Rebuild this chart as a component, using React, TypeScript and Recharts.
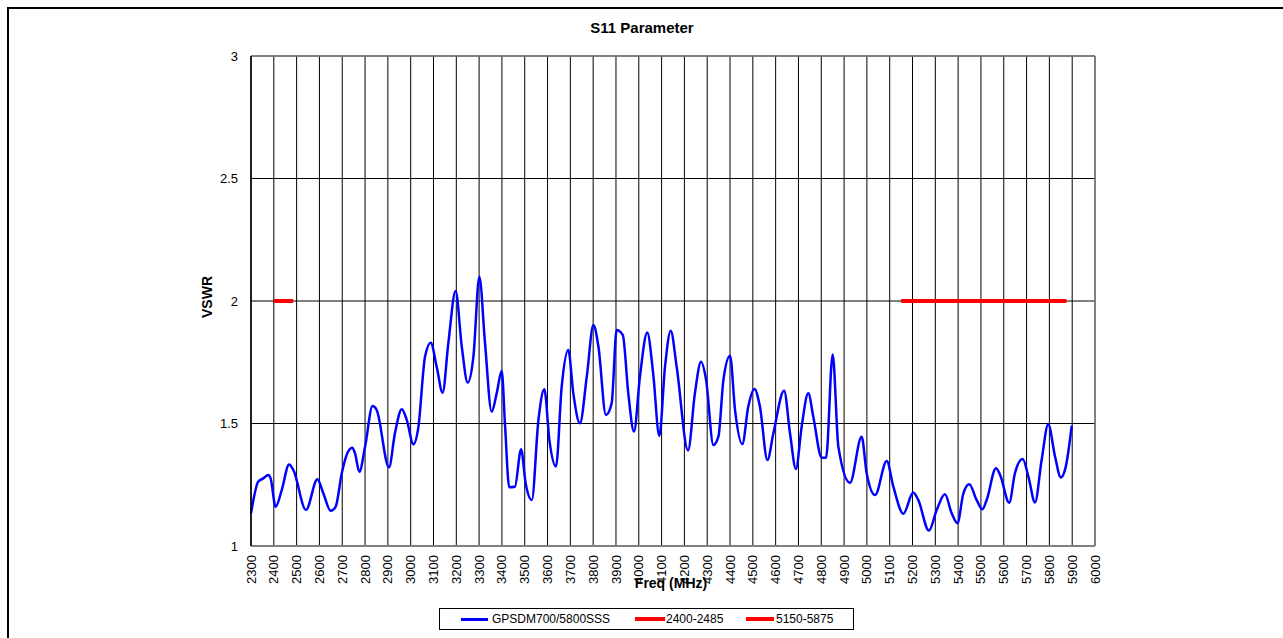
import { LineChart, Line, XAxis, YAxis, CartesianGrid, ReferenceLine } from 'recharts';

const freqs = [
  2300, 2332, 2354, 2376, 2386, 2408, 2435, 2467, 2486, 2541, 2591, 2617, 2649, 2671, 2698, 2719,
  2744, 2756, 2775, 2800, 2833, 2851, 2905, 2931, 2961, 2983, 3012, 3033, 3063, 3088, 3114, 3140,
  3165, 3197, 3224, 3250, 3275, 3301, 3326, 3355, 3377, 3399, 3414, 3432, 3457, 3484, 3504, 3531,
  3560, 3586, 3608, 3637, 3662, 3691, 3713, 3742, 3772, 3801, 3823, 3856, 3881, 3903, 3930, 3954,
  3979, 4005, 4037, 4063, 4090, 4115, 4140, 4166, 4216, 4246, 4273, 4295, 4327, 4349, 4371, 4400,
  4422, 4454, 4480, 4507, 4531, 4564, 4590, 4637, 4663, 4689, 4714, 4743, 4765, 4802, 4821, 4850,
  4875, 4926, 4977, 4999, 5036, 5087, 5116, 5160, 5203, 5225, 5272, 5306, 5342, 5372, 5397, 5423,
  5449, 5481, 5506, 5525, 5566, 5584, 5624, 5649, 5683, 5708, 5737, 5766, 5795, 5825, 5850, 5872,
  5898,
];
const vswr = [
  1.133, 1.263, 1.276, 1.29, 1.276, 1.16, 1.229, 1.333, 1.31, 1.147, 1.272, 1.215, 1.144, 1.16, 1.297, 1.371,
  1.401, 1.378, 1.303, 1.405, 1.571, 1.555, 1.321, 1.46, 1.558, 1.514, 1.415, 1.48, 1.773, 1.83, 1.732, 1.626,
  1.827, 2.041, 1.814, 1.667, 1.773, 2.099, 1.827, 1.548, 1.623, 1.714, 1.487, 1.24, 1.242, 1.395, 1.256, 1.188,
  1.514, 1.64, 1.433, 1.324, 1.65, 1.8, 1.623, 1.501, 1.691, 1.902, 1.814, 1.535, 1.582, 1.882, 1.861, 1.623,
  1.467, 1.691, 1.871, 1.705, 1.449, 1.732, 1.879, 1.732, 1.39, 1.623, 1.752, 1.678, 1.412, 1.446, 1.678, 1.777,
  1.555, 1.416, 1.569, 1.641, 1.569, 1.351, 1.46, 1.634, 1.46, 1.314, 1.487, 1.623, 1.528, 1.36, 1.36, 1.782,
  1.405, 1.258, 1.446, 1.297, 1.208, 1.347, 1.242, 1.132, 1.218, 1.188, 1.063, 1.147, 1.211, 1.133, 1.093, 1.215,
  1.252, 1.188, 1.15, 1.188, 1.317, 1.29, 1.177, 1.297, 1.355, 1.283, 1.178, 1.351, 1.497, 1.364, 1.28, 1.324,
  1.491,
];

// band limit markers
const band24Freqs = [2400, 2485];
const band24Level = [2, 2];
const band5Freqs = [5150, 5875];
const band5Level = [2, 2];

const xTicks = [
  2300, 2400, 2500, 2600, 2700, 2800, 2900, 3000, 3100, 3200, 3300, 3400, 3500, 3600, 3700, 3800, 3900,
  4000, 4100, 4200, 4300, 4400, 4500, 4600, 4700, 4800, 4900, 5000, 5100, 5200, 5300, 5400, 5500, 5600,
  5700, 5800, 5900, 6000,
];
const yTicks = [1, 1.5, 2, 2.5, 3];

const sweep = freqs.map((f, i) => ({ f, v: vswr[i] }));
const band24 = band24Freqs.map((f, i) => ({ f, v: band24Level[i] }));
const band5 = band5Freqs.map((f, i) => ({ f, v: band5Level[i] }));

const FONT = "'Liberation Sans', Arial, sans-serif";

function FreqTick({ x, y, payload }: any) {
  return (
    <text
      x={x}
      y={y}
      transform={`rotate(-90 ${x} ${y})`}
      textAnchor="end"
      dy="0.35em"
      fontSize={13}
      fontFamily={FONT}
      fill="#000"
    >
      {payload.value}
    </text>
  );
}

export default function App() {
  return (
    <div style={{ position: 'fixed', left: 0, top: 0, width: 1283, height: 638, overflow: 'hidden', background: '#fff', fontFamily: FONT }}>
      <div style={{ position: 'absolute', left: 7, top: 7, right: -10, bottom: -10, borderLeft: '2px solid #000', borderTop: '2px solid #000' }} />

      <div style={{ position: 'absolute', left: 0, top: 0 }}>
        <LineChart width={1283} height={638} data={sweep} margin={{ top: 56, right: 188, bottom: 0, left: 0 }}>
          <CartesianGrid stroke="#000" strokeWidth={1} verticalValues={xTicks} horizontalValues={yTicks} />
          <XAxis
            type="number"
            dataKey="f"
            domain={[2300, 6000]}
            ticks={xTicks}
            interval={0}
            height={92}
            tickLine={false}
            tickSize={0}
            tickMargin={9}
            axisLine={{ stroke: '#808080', strokeWidth: 2 }}
            tick={<FreqTick />}
          />
          <YAxis
            type="number"
            domain={[1, 3]}
            ticks={yTicks}
            interval={0}
            width={251}
            tickLine={false}
            tickSize={0}
            tickMargin={13}
            axisLine={{ stroke: '#000', strokeWidth: 1.5 }}
            tick={{ fontSize: 13, fill: '#000', fontFamily: FONT }}
          />
          <ReferenceLine x={6000} stroke="#808080" strokeWidth={1.5} />
          <ReferenceLine y={3} stroke="#808080" strokeWidth={1.5} />
          <Line
            dataKey="v"
            type="monotone"
            stroke="#0000ff"
            strokeWidth={2.5}
            dot={false}
            activeDot={false}
            isAnimationActive={false}
          />
          <Line data={band24} dataKey="v" type="linear" stroke="#ff0000" strokeWidth={4} dot={false} activeDot={false} isAnimationActive={false} />
          <Line data={band5} dataKey="v" type="linear" stroke="#ff0000" strokeWidth={4} dot={false} activeDot={false} isAnimationActive={false} />
        </LineChart>
      </div>

      <div style={{ position: 'absolute', left: 0, width: 1284, top: 20, textAlign: 'center', fontSize: 15, lineHeight: '15px', fontWeight: 'bold' }}>
        S11 Parameter
      </div>
      <div style={{ position: 'absolute', left: 571, width: 200, top: 576, textAlign: 'center', fontSize: 14, lineHeight: '14px', fontWeight: 'bold' }}>
        Freq (MHz)
      </div>
      <div
        style={{
          position: 'absolute', left: 157, width: 100, top: 290, textAlign: 'center', fontSize: 14, lineHeight: '14px',
          fontWeight: 'bold', transform: 'rotate(-90deg)', transformOrigin: '50% 50%',
        }}
      >
        VSWR
      </div>

      <div style={{ position: 'absolute', left: 439, top: 608, width: 413, height: 20, border: '1px solid #000', fontSize: 12 }}>
        <div style={{ position: 'absolute', left: 21, top: 9, width: 27, height: 2.5, background: '#0000ff' }} />
        <div style={{ position: 'absolute', left: 52, top: 3, lineHeight: '14px' }}>GPSDM700/5800SSS</div>
        <div style={{ position: 'absolute', left: 195, top: 8, width: 30, height: 4, background: '#ff0000' }} />
        <div style={{ position: 'absolute', left: 226, top: 3, lineHeight: '14px' }}>2400-2485</div>
        <div style={{ position: 'absolute', left: 306, top: 8, width: 28, height: 4, background: '#ff0000' }} />
        <div style={{ position: 'absolute', left: 336, top: 3, lineHeight: '14px' }}>5150-5875</div>
      </div>
    </div>
  );
}
